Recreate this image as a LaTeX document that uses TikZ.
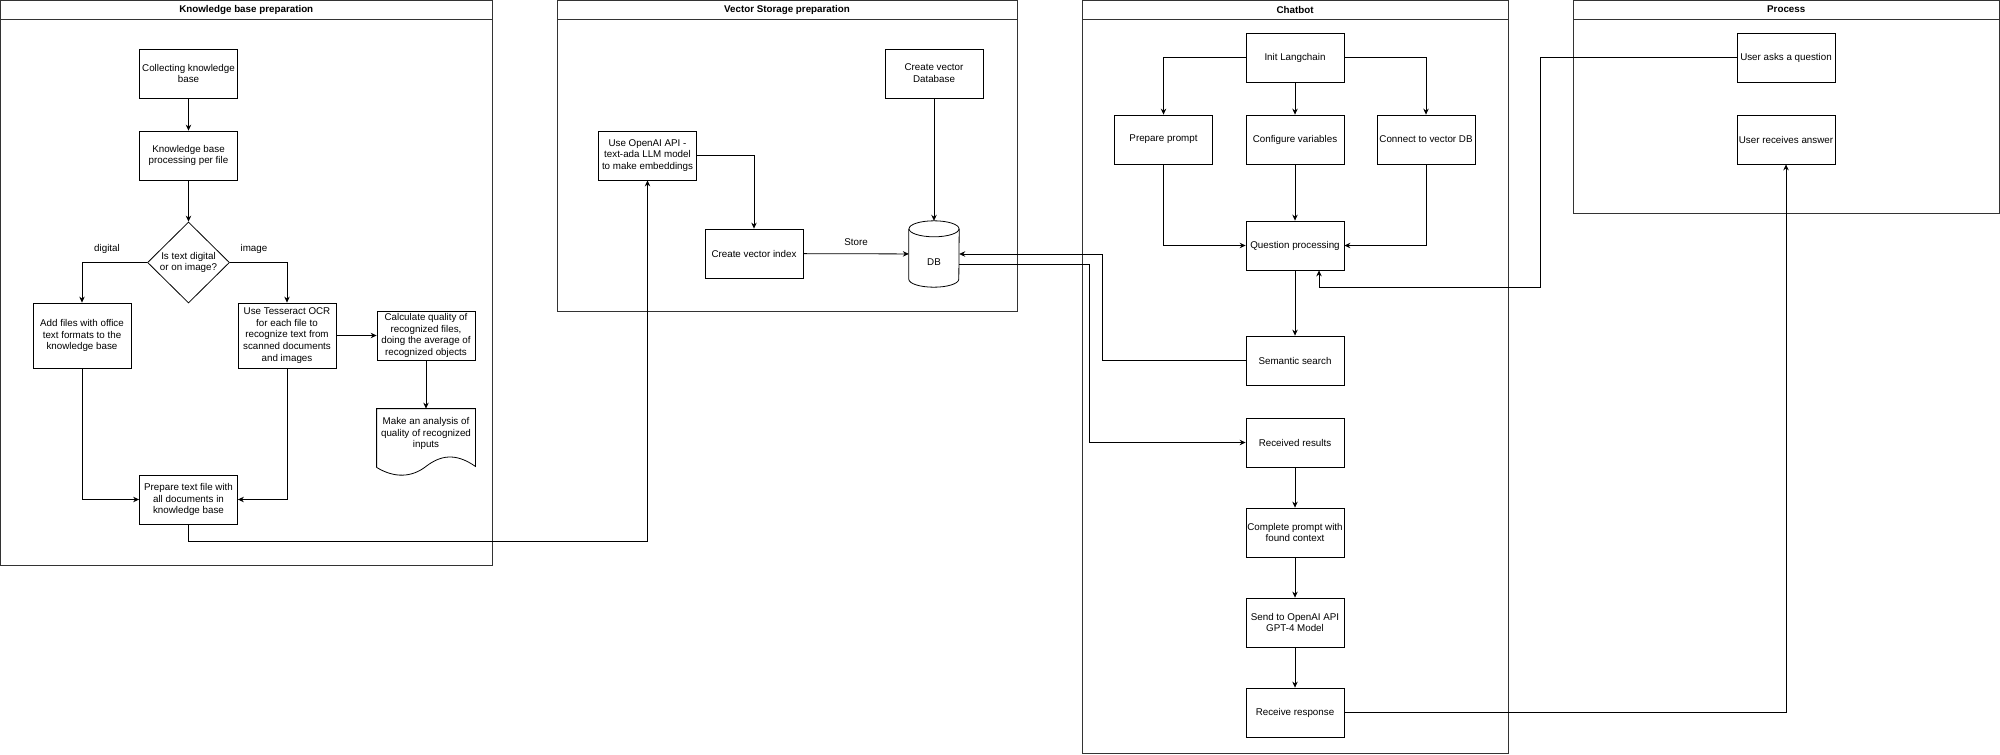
\documentclass[tikz,border=0pt]{standalone}
\usepackage{fontspec}
\setmainfont{Liberation Sans}
\usetikzlibrary{arrows.meta, shapes.geometric, positioning, calc}

\tikzset{
  box/.style={draw, line width=0.8pt, minimum width=98pt, minimum height=49pt,
    align=center, inner sep=1pt, font=\fontsize{9.8}{11.8}\selectfont},
  tallbox/.style={box, minimum height=65pt},
  decision/.style={draw, diamond, line width=0.8pt, minimum width=82pt,
    minimum height=81pt, inner sep=0pt},
  lbl/.style={font=\fontsize{9.8}{11.8}\selectfont, align=center},
  lanetitle/.style={font=\bfseries\fontsize{9.8}{11.8}\selectfont},
  lane/.style={line width=1pt, draw=black!80},
  arr/.style={line width=0.8pt, -{Stealth[length=6pt,width=5.5pt,inset=2pt]}},
  link/.style={line width=0.8pt},
}

\begin{document}
\begin{tikzpicture}[x=1pt, y=-1pt]
  \useasboundingbox (0,0) rectangle (2000,755);

  % swimlanes
  \foreach \xa/\xb/\yb/\title in {0.5/492/565/Knowledge base preparation,
      557/1017/311/Vector Storage preparation, 1082/1508/753/Chatbot,
      1573/1999.5/213/Process}{
    \draw[lane] (\xa,0.5) rectangle (\xb,\yb);
    \draw[lane] (\xa,19) -- (\xb,19);
    \node[lanetitle] at ({(\xa+\xb)/2},9.5) {\title};
  }

  % knowledge base preparation
  \node[box] (col)  at (188.5,73.5)  {Collecting knowledge\\base};
  \node[box] (proc) at (188.5,155.5) {Knowledge base\\processing per file};
  \node[decision, label={[lbl]center:Is text digital\\or on image?}] (dec) at (188.5,262.5) {};
  \node[tallbox] (addf) at (82,335.5)  {Add files with office\\text formats to the\\knowledge base};
  \node[tallbox] (ocr)  at (287,335.5) {Use Tesseract OCR\\for each file to\\recognize text from\\scanned documents\\and images};
  \node[box] (calc) at (426,335.5) {Calculate quality of\\recognized files,\\doing the average of\\recognized objects};
  \node[box, draw=none] (anl) at (426,433.5) {Make an analysis of\\quality of recognized\\inputs};
  \draw[link] ($(anl.south west)+(0,9)$) -- (anl.north west) -- (anl.north east)
    -- ($(anl.south east)+(0,8)$)
    .. controls ($(anl.south east)+(-20,-6)$) and ($(anl.south east)+(-35,-3)$) .. ($(anl.south)+(0,8)$)
    .. controls ($(anl.south)+(-14,19)$) and ($(anl.south west)+(18,20)$) .. ($(anl.south west)+(0,9)$);
  \node[box] (prep) at (188.5,499.5) {Prepare text file with\\all documents in\\knowledge base};

  \node[lbl] at (107,249) {digital};
  \node[lbl] at (254,249) {image};

  \draw[arr] (col) -- (proc);
  \draw[arr] (proc) -- (dec);
  \draw[arr] (dec.west) -| (addf.north);
  \draw[arr] (dec.east) -| (ocr.north);
  \draw[arr] (ocr) -- (calc);
  \draw[arr] (calc) -- (anl);
  \draw[arr] (addf.south) |- (prep.west);
  \draw[arr] (ocr.south) |- (prep.east);

  % vector storage preparation
  \node[box] (emb)  at (647.5,155.5) {Use OpenAI API -\\text-ada LLM model\\to make embeddings};
  \node[box] (vdb)  at (934,73.5)    {Create vector\\Database};
  \node[box] (vidx) at (754,253.5)   {Create vector index};
  \node[minimum width=50pt, minimum height=66pt, inner sep=0pt,
    label={[lbl, yshift=-8pt]center:DB}] (db) at (934,254) {};
  \draw[link] ($(db.north)+(0,8)$) ellipse [x radius=25pt, y radius=8pt];
  \draw[link] ($(db.north west)+(0,8)$) -- ($(db.south west)+(0,-8)$)
    arc [start angle=180, end angle=360, x radius=25pt, y radius=8pt]
    -- ($(db.north east)+(0,8)$);

  \draw[arr] (prep.south) -- ++(0,17) -| (emb.south);
  \draw[arr] (emb.east) -| (vidx.north);
  \draw[arr] (vdb) -- (db);
  \draw[arr] (vidx) -- node[lbl, above=4pt] {Store} (db);

  % chatbot
  \node[box] (init)   at (1295,57.5)   {Init Langchain};
  \node[box] (prompt) at (1163.5,139.5) {Prepare prompt};
  \node[box] (conf)   at (1295,139.5)  {Configure variables};
  \node[box] (conn)   at (1426,139.5)  {Connect to vector DB};
  \node[box] (qp)     at (1295,245.5)  {Question processing};
  \node[box] (sem)    at (1295,360.5)  {Semantic search};
  \node[box] (res)    at (1295,442.5)  {Received results};
  \node[box] (comp)   at (1295,532.5)  {Complete prompt with\\found context};
  \node[box] (send)   at (1295,622.5)  {Send to OpenAI API\\GPT-4 Model};
  \node[box] (resp)   at (1295,712.5)  {Receive response};

  \draw[arr] (init.west) -| (prompt.north);
  \draw[arr] (init) -- (conf);
  \draw[arr] (init.east) -| (conn.north);
  \draw[arr] (prompt.south) |- (qp.west);
  \draw[arr] (conf) -- (qp);
  \draw[arr] (conn.south) |- (qp.east);
  \draw[arr] (qp) -- (sem);
  \coordinate (semturn) at (1102,254);
  \draw[arr] (sem.west) -| (semturn) -- (db.east);
  \draw[arr] ($(db.east)+(0,10)$) -| ($(res.west)+(-156,0)$) -- (res.west);
  \draw[arr] (res) -- (comp);
  \draw[arr] (comp) -- (send);
  \draw[arr] (send) -- (resp);

  % process
  \node[box] (ask) at (1786,57.5)  {User asks a question};
  \node[box] (ans) at (1786,139.5) {User receives answer};

  \coordinate (askturn) at (1540,287);
  \draw[arr] (ask.west) -| (askturn) -| ($(qp.south)+(24,0)$);
  \draw[arr] (resp.east) -| (ans.south);
\end{tikzpicture}
\end{document}
